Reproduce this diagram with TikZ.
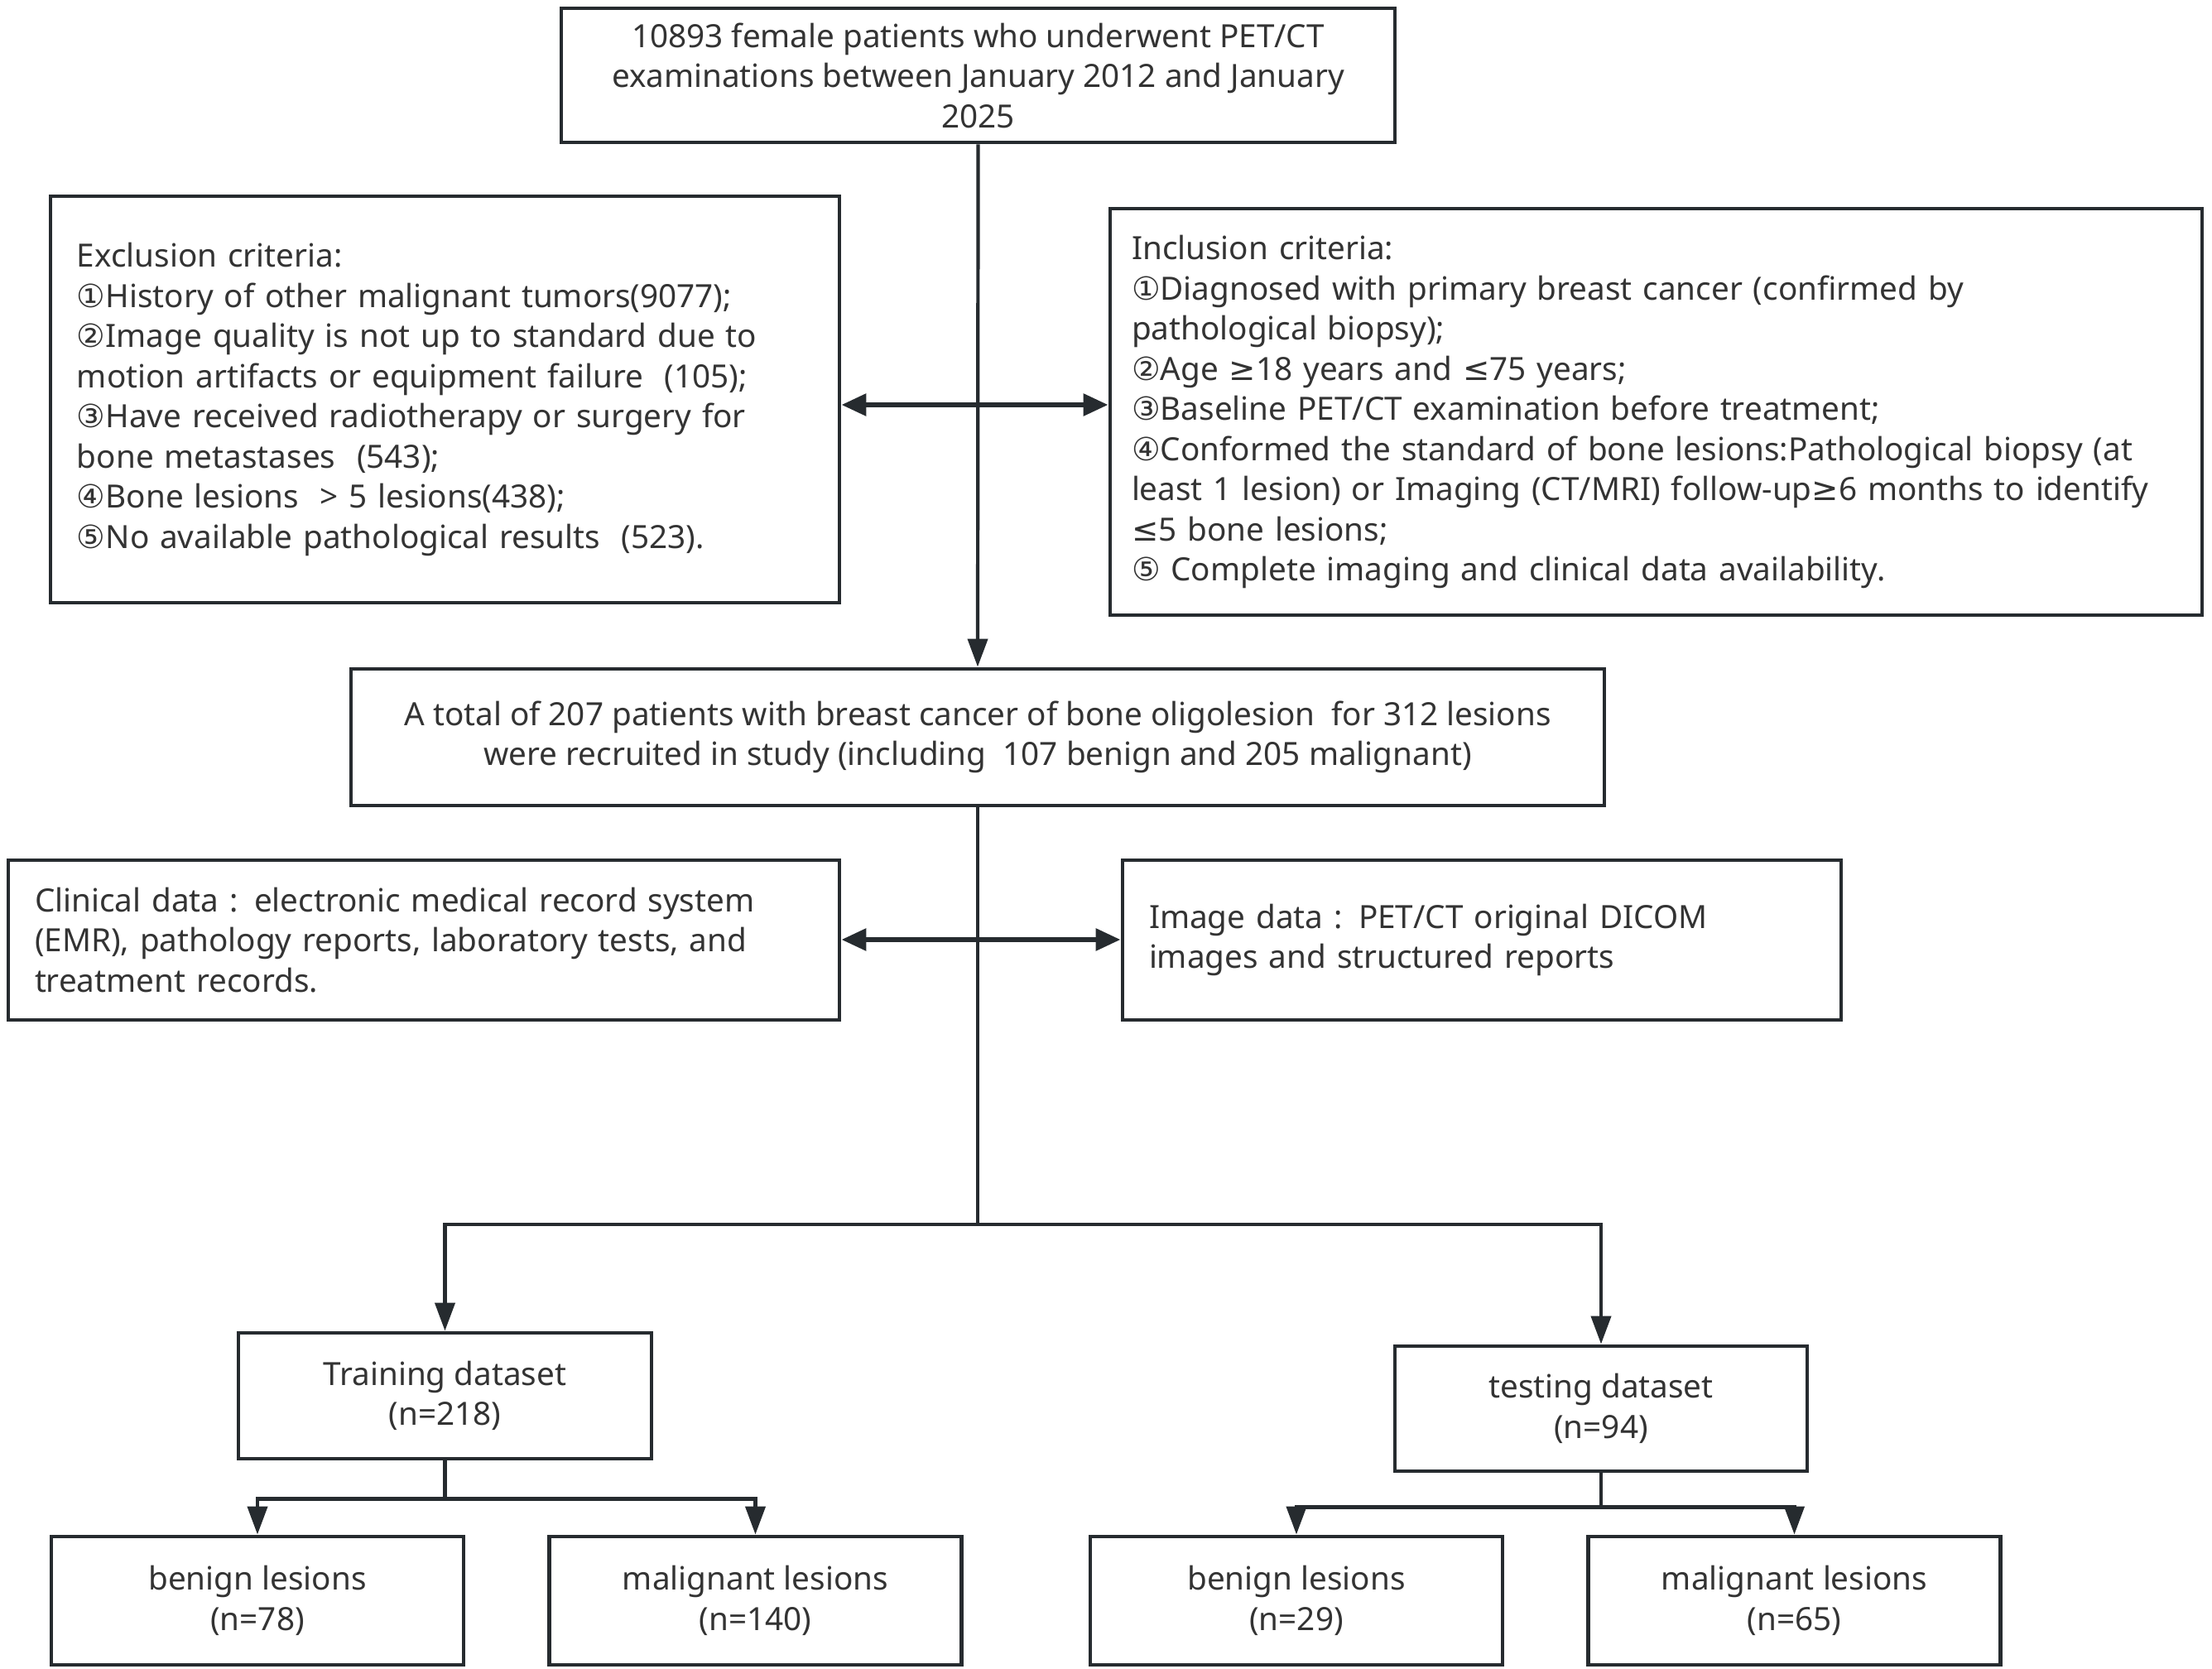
\documentclass[tikz,border=0pt]{standalone}
\usepackage{fontspec}
\setmainfont{Noto Sans}
\newfontfamily\circfont{DejaVu Sans}
\usetikzlibrary{arrows.meta,calc}
\definecolor{boxline}{HTML}{262B2F}
\definecolor{txtgray}{HTML}{333333}
\newcommand\cnum[1]{{\circfont #1}}

\begin{document}
\begin{tikzpicture}[
    box/.style={draw=boxline,line width=1.4pt,inner sep=0pt,text=txtgray,align=center,font=\fontsize{11}{13.8}\selectfont},
    leftbox/.style={box,align=left,inner xsep=0.32cm},
    link/.style={draw=boxline,line width=1.2pt},
    arr/.style={link,-{Triangle[length=0.34cm,width=0.24cm]}},
    dblarr/.style={link,line width=1.7pt,{Triangle[length=0.3cm,width=0.26cm]}-{Triangle[length=0.3cm,width=0.26cm]}}]

  \useasboundingbox (0,0) rectangle (26.72,-20.16);

  %%%% Boxes %%%%
  \node[box,minimum width=10.07cm,minimum height=1.62cm] (top) at (11.815,-0.91)
    {10893 female patients who underwent PET/CT\\examinations between January 2012 and January\\2025};

  %% criteria
  \node[leftbox,text width=8.89cm,minimum height=4.91cm] (excl) at (5.375,-4.825)
    {Exclusion criteria:\\
     \cnum{①}History of other malignant tumors(9077);\\
     \cnum{②}Image quality is not up to standard due to\\
     motion artifacts or equipment failure\ \ (105);\\
     \cnum{③}Have received radiotherapy or surgery for\\
     bone metastases\ \ (543);\\
     \cnum{④}Bone lesions\ \ > 5 lesions(438);\\
     \cnum{⑤}No available pathological results\ \ (523).};
  \node[leftbox,inner xsep=0.26cm,text width=12.67cm,minimum height=4.91cm] (incl) at (20.005,-4.975)
    {Inclusion criteria:\\
     \cnum{①}Diagnosed with primary breast cancer (confirmed by\\
     pathological biopsy);\\
     \cnum{②}Age \cnum{≥}18 years and \cnum{≤}75 years;\\
     \cnum{③}Baseline PET/CT examination before treatment;\\
     \cnum{④}Conformed the standard of bone lesions:Pathological biopsy (at\\
     least 1 lesion) or Imaging (CT/MRI) follow-up\cnum{≥}6 months to identify\\
     \cnum{≤}5 bone lesions;\\
     \cnum{⑤} Complete imaging and clinical data availability.};

  \node[box,minimum width=15.14cm,minimum height=1.65cm] (mid) at (11.81,-8.905)
    {A total of 207 patients with breast cancer of bone oligolesion\ \ for 312 lesions\\were recruited in study (including\ \ 107 benign and 205 malignant)};

  %% data sources
  \node[leftbox,text width=9.4cm,minimum height=1.93cm] (clin) at (5.12,-11.355)
    {Clinical data : electronic medical record system\\(EMR), pathology reports, laboratory tests, and\\treatment records.};
  \node[leftbox,text width=8.04cm,minimum height=1.93cm] (img) at (17.90,-11.355)
    {Image data : PET/CT original DICOM\\images and structured reports};

  %% datasets
  \node[box,minimum width=4.99cm,minimum height=1.52cm] (train) at (5.375,-16.86) {Training dataset\\(n=218)};
  \node[box,minimum width=4.98cm,minimum height=1.51cm] (test) at (19.34,-17.015) {testing dataset\\(n=94)};

  \foreach \nm/\x/\t/\n in {ben1/3.11/benign lesions/78, mal1/9.125/malignant lesions/140,
                            ben2/15.66/benign lesions/29, mal2/21.675/malignant lesions/65}{
    \node[box,minimum width=4.98cm,minimum height=1.55cm] (\nm) at (\x,-19.335) {\t\\(n=\n)};
  }

  %%%% Connectors %%%%
  \coordinate (hub1) at (top.south |- 0,-4.89);
  \coordinate (hub2) at (mid.south |- 0,-11.35);
  \coordinate (split) at (mid.south |- 0,-14.79);
  \coordinate (trsplit) at ($(train.south)+(0,-0.46)$);
  \coordinate (tesplit) at ($(test.south)+(0,-0.41)$);

  \draw[arr] (top.south) -- (mid.north);
  \draw[dblarr] (excl.east |- hub1) -- (incl.west |- hub1);
  \draw[link] (mid.south) -- (split);
  \draw[dblarr] (clin.east |- hub2) -- (img.west |- hub2);
  \draw[arr] (split) -| (train.north);
  \draw[arr] (split) -| (test.north);

  \draw[link] (train.south) -- (trsplit);
  \draw[arr] (trsplit) -| (ben1.north);
  \draw[arr] (trsplit) -| (mal1.north);
  \draw[link] (test.south) -- (tesplit);
  \draw[arr] (tesplit) -| (ben2.north);
  \draw[arr] (tesplit) -| (mal2.north);

\end{tikzpicture}
\end{document}
